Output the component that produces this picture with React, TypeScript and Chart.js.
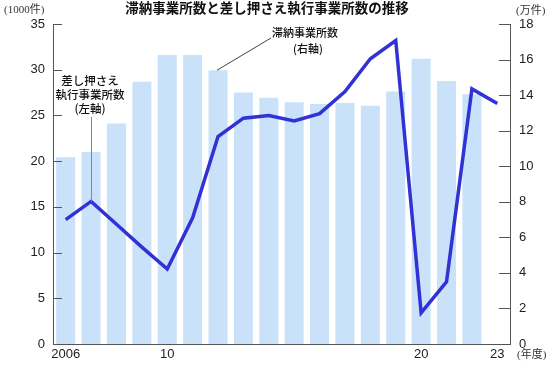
import React, { useEffect, useRef } from "react";
import { Chart, registerables } from "chart.js";

Chart.register(...registerables);

const years = ["2006","2007","2008","2009","2010","2011","2012","2013","2014","2015","2016","2017","2018","2019","2020","2021","2022","2023"];
const xTickLabels = ["2006","","","","10","","","","","","","","","","20","","","23"];
// 滞納事業所数 (万件, right axis)
const delinquentValues = [10.5, 10.8, 12.4, 14.75, 16.25, 16.25, 15.4, 14.15, 13.85, 13.6, 13.5, 13.55, 13.4, 14.2, 16.05, 14.8, 14.05, null];
// 差し押さえ執行事業所数 (1000件, left axis)
const seizureValues = [13.6, 15.6, 13.1, 10.6, 8.2, 13.8, 22.7, 24.7, 25.0, 24.4, 25.2, 27.6, 31.2, 33.2, 3.4, 6.8, 27.9, 26.3];
const leftTicks = [0, 5, 10, 15, 20, 25, 30, 35];
const rightTicks = [0, 2, 4, 6, 8, 10, 12, 14, 16, 18];

const titleText = "滞納事業所数と差し押さえ執行事業所数の推移";
const leftUnit = "(1000件)";
const rightUnit = "(万件)";
const xUnit = "(年度)";
const lineLabelLines = ["差し押さえ", "執行事業所数", "(左軸)"];
const barLabelLines = ["滞納事業所数", "(右軸)"];

const SANS = "'Liberation Sans', 'Noto Sans CJK JP', sans-serif";
const CJK = "'Noto Sans CJK JP', sans-serif";
const SERIF = "'Liberation Serif', 'Noto Sans CJK JP', serif";

const decorPlugin = {
  id: "decor",
  afterDatasetsDraw(chart: any) {
    const ctx = chart.ctx;
    const area = chart.chartArea;
    const yL = chart.scales.y;
    const yR = chart.scales.y1;
    const x = chart.scales.x;
    ctx.save();
    // inward ticks
    ctx.strokeStyle = "#555";
    ctx.lineWidth = 1;
    leftTicks.forEach((v) => {
      const py = Math.round(yL.getPixelForValue(v)) + 0.5;
      ctx.beginPath();
      ctx.moveTo(area.left, py);
      ctx.lineTo(area.left + 9, py);
      ctx.stroke();
    });
    rightTicks.forEach((v) => {
      const py = Math.round(yR.getPixelForValue(v)) + 0.5;
      ctx.beginPath();
      ctx.moveTo(area.right, py);
      ctx.lineTo(area.right - 11, py);
      ctx.stroke();
    });
    // leader lines
    ctx.strokeStyle = "#888";
    ctx.lineWidth = 1;
    const lx = Math.round(x.getPixelForValue(1)) + 0.5;
    ctx.beginPath();
    ctx.moveTo(lx, 117);
    ctx.lineTo(lx, yL.getPixelForValue(seizureValues[1]));
    ctx.stroke();
    ctx.strokeStyle = "#444";
    ctx.beginPath();
    ctx.moveTo(271, 38);
    ctx.lineTo(x.getPixelForValue(6) - 1, yR.getPixelForValue(delinquentValues[6] as number));
    ctx.stroke();
    // texts
    ctx.fillStyle = "#111";
    ctx.textAlign = "center";
    ctx.textBaseline = "middle";
    ctx.font = "bold 13.5px " + CJK;
    ctx.fillText(titleText, 267, 8);
    ctx.font = "500 11.5px " + CJK;
    lineLabelLines.forEach((t, i) => ctx.fillText(t, 90, 81 + i * 14));
    ctx.font = "500 11px " + CJK;
    barLabelLines.forEach((t, i) => ctx.fillText(t, i === 0 ? 305 : 308, 33 + i * 15.5));
    ctx.font = "11px " + SERIF;
    ctx.fillStyle = "#333";
    ctx.textAlign = "left";
    ctx.fillText(leftUnit, 4, 10);
    ctx.fillText(rightUnit, 516, 11);
    ctx.fillText(xUnit, 517, 355);
    ctx.restore();
  },
};

export default function App() {
  const ref = useRef<HTMLCanvasElement>(null);
  useEffect(() => {
    if (!ref.current) return;
    const chart = new Chart(ref.current, {
      type: "bar",
      data: {
        labels: years,
        datasets: [
          {
            type: "line",
            label: "差し押さえ執行事業所数",
            data: seizureValues,
            yAxisID: "y",
            borderColor: "#3232d4",
            borderWidth: 3.5,
            pointRadius: 0,
            tension: 0,
            borderJoinStyle: "miter",
            order: 0,
          } as any,
          {
            type: "bar",
            label: "滞納事業所数",
            data: delinquentValues,
            yAxisID: "y1",
            backgroundColor: "#c9e2fa",
            borderWidth: 0,
            categoryPercentage: 1,
            barPercentage: 0.75,
            order: 1,
          } as any,
        ],
      },
      options: {
        responsive: false,
        animation: false,
        layout: { padding: { top: 24, left: 0, right: 0, bottom: 0 } },
        plugins: { legend: { display: false }, tooltip: { enabled: false }, title: { display: false } },
        scales: {
          x: {
            grid: { display: false, drawTicks: false },
            border: { display: true, color: "#555", width: 1 },
            ticks: {
              autoSkip: false,
              maxRotation: 0,
              padding: 3,
              color: "#222",
              font: { family: SANS, size: 13 },
              callback: (_v: any, i: number) => xTickLabels[i],
            },
            afterFit: (s: any) => { s.height = 22; },
          },
          y: {
            position: "left",
            min: 0,
            max: 35,
            grid: { display: false, drawTicks: false },
            border: { display: true, color: "#555", width: 1 },
            ticks: { stepSize: 5, padding: 8, color: "#222", font: { family: SANS, size: 13 } },
            afterFit: (s: any) => { s.width = 53; },
          },
          y1: {
            position: "right",
            min: 0,
            max: 18,
            grid: { display: false, drawTicks: false },
            border: { display: true, color: "#555", width: 1 },
            ticks: { stepSize: 2, padding: 9, color: "#222", font: { family: SANS, size: 13 } },
            afterFit: (s: any) => { s.width = 40; },
          },
        },
      },
      plugins: [decorPlugin],
    });
    return () => chart.destroy();
  }, []);
  return (
    <div style={{ position: "fixed", left: 0, top: 0, width: 550, height: 366, background: "#fff" }}>
      <canvas ref={ref} width={550} height={366} style={{ width: 550, height: 366, display: "block" }} />
    </div>
  );
}
